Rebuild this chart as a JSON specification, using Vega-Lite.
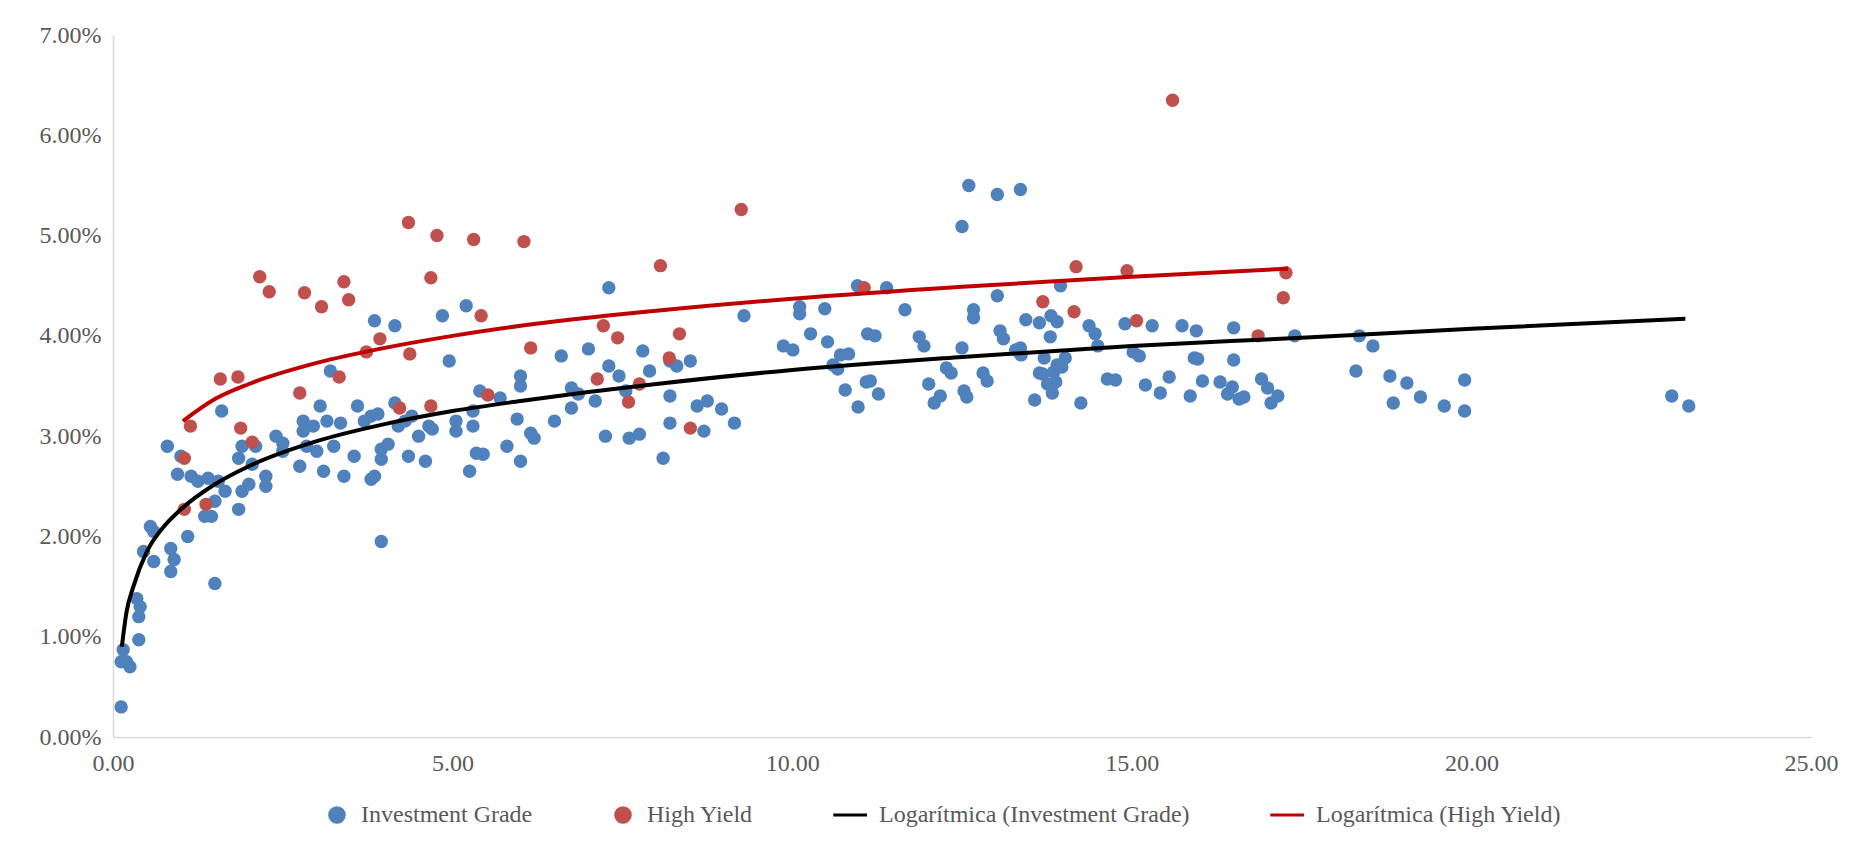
{
  "$schema": "https://vega.github.io/schema/vega-lite/v6.json",
  "width": 1698,
  "height": 702,
  "autosize": {"type": "none"},
  "padding": {"left": 113, "top": 35, "right": 56, "bottom": 114},
  "background": "white",
  "config": {
    "font": "Liberation Serif",
    "view": {"stroke": null},
    "axis": {"labelFont": "Liberation Serif", "labelFontSize": 24, "labelColor": "#595959", "grid": false, "domainColor": "#d9d9d9", "domainWidth": 1.5, "ticks": false, "title": null, "labelFlush": false}
  },
  "datasets": {
    "ig": [
      [0.12,0.3],[0.12,0.75],[0.15,0.87],[0.2,0.75],[0.25,0.7],[0.35,1.38],[0.38,1.2],[0.38,0.97],[0.4,1.3],[0.45,1.85],[0.55,2.1],[0.6,2.05],[0.6,1.75],[0.8,2.9],[0.85,1.88],[0.85,1.65],[0.9,1.77],[0.95,2.62],[1.0,2.8],[1.1,2.0],[1.15,2.6],[1.25,2.55],[1.35,2.2],[1.4,2.58],[1.45,2.2],[1.5,2.35],[1.5,1.53],[1.55,2.55],[1.6,3.25],[1.65,2.45],[1.85,2.27],[1.85,2.78],[1.9,2.9],[1.9,2.45],[2.0,2.52],[2.05,2.72],[2.1,2.9],[2.25,2.5],[2.25,2.6],[2.4,3.0],[2.5,2.93],[2.5,2.85],[2.75,2.7],[2.8,3.15],[2.8,3.05],[2.85,2.9],[2.95,3.1],[3.0,2.85],[3.05,3.3],[3.1,2.65],[3.15,3.15],[3.2,3.65],[3.25,2.9],[3.35,3.13],[3.4,2.6],[3.55,2.8],[3.6,3.3],[3.7,3.15],[3.8,3.2],[3.8,2.57],[3.85,2.6],[3.85,4.15],[3.9,3.22],[3.95,2.77],[3.95,2.87],[3.95,1.95],[4.05,2.92],[4.15,3.33],[4.15,4.1],[4.2,3.1],[4.3,3.15],[4.35,2.8],[4.4,3.2],[4.5,3.0],[4.6,2.75],[4.65,3.1],[4.7,3.07],[4.85,4.2],[4.95,3.75],[5.05,3.05],[5.05,3.15],[5.2,4.3],[5.25,2.65],[5.3,3.1],[5.3,3.25],[5.35,2.83],[5.4,3.45],[5.45,2.82],[5.7,3.38],[5.8,2.9],[5.95,3.17],[6.0,3.6],[6.0,3.5],[6.0,2.75],[6.15,3.03],[6.2,2.98],[6.5,3.15],[6.6,3.8],[6.75,3.28],[6.75,3.48],[6.85,3.42],[7.0,3.87],[7.1,3.35],[7.25,3.0],[7.3,4.48],[7.3,3.7],[7.45,3.6],[7.55,3.45],[7.6,2.98],[7.75,3.02],[7.8,3.85],[7.9,3.65],[8.1,2.78],[8.2,3.13],[8.2,3.4],[8.2,3.75],[8.3,3.7],[8.5,3.75],[8.6,3.3],[8.7,3.05],[8.75,3.35],[8.96,3.27],[9.15,3.13],[9.29,4.2],[9.87,3.9],[10.01,3.86],[10.11,4.29],[10.11,4.22],[10.27,4.02],[10.48,4.27],[10.52,3.94],[10.6,3.71],[10.67,3.67],[10.71,3.81],[10.78,3.46],[10.83,3.82],[10.97,3.29],[11.09,3.54],[11.11,4.02],[11.15,3.55],[11.22,4.0],[10.96,4.5],[11.27,3.42],[11.39,4.48],[11.66,4.26],[11.87,3.99],[11.94,3.9],[12.01,3.52],[12.09,3.33],[12.18,3.4],[12.27,3.68],[12.34,3.63],[12.5,5.09],[12.5,3.88],[12.53,3.45],[12.57,3.39],[12.6,5.5],[12.67,4.18],[12.67,4.26],[12.81,3.63],[12.87,3.55],[13.02,4.4],[13.36,3.88],[13.06,4.05],[13.11,3.97],[13.02,5.41],[13.36,5.46],[13.29,3.86],[13.37,3.81],[13.44,4.16],[13.57,3.36],[13.64,4.13],[13.64,3.63],[13.69,3.62],[13.71,3.78],[13.76,3.52],[13.8,3.99],[13.81,4.2],[13.83,3.43],[13.85,3.64],[13.88,3.54],[13.9,3.71],[13.9,4.14],[13.95,4.5],[13.97,3.69],[14.02,3.78],[14.25,3.33],[14.37,4.1],[14.46,4.02],[14.5,3.9],[14.64,3.57],[14.76,3.56],[14.9,4.12],[15.02,3.84],[15.11,3.8],[15.2,3.51],[15.3,4.1],[15.42,3.43],[15.55,3.59],[15.74,4.1],[15.86,3.4],[15.92,3.78],[15.95,4.05],[15.97,3.77],[16.04,3.55],[16.3,3.54],[16.41,3.42],[16.48,3.49],[16.5,4.08],[16.5,3.76],[16.58,3.37],[16.65,3.39],[16.91,3.57],[17.0,3.48],[17.05,3.33],[17.15,3.4],[17.4,4.0],[18.3,3.65],[18.35,4.0],[18.55,3.9],[18.8,3.6],[18.85,3.33],[19.05,3.53],[19.25,3.39],[19.6,3.3],[19.9,3.25],[19.9,3.56],[22.95,3.4],[23.2,3.3]
    ],
    "hy": [
      [1.05,2.78],[1.14,3.1],[1.05,2.27],[1.37,2.32],[1.58,3.57],[1.84,3.59],[1.88,3.08],[2.05,2.94],[2.16,4.59],[2.3,4.44],[2.75,3.43],[2.82,4.43],[3.07,4.29],[3.33,3.59],[3.4,4.54],[3.47,4.36],[3.73,3.84],[3.93,3.97],[4.22,3.28],[4.35,5.13],[4.37,3.82],[4.68,4.58],[4.68,3.3],[4.77,5.0],[5.31,4.96],[5.42,4.2],[5.52,3.41],[6.05,4.94],[6.15,3.88],[7.13,3.57],[7.22,4.1],[7.43,3.98],[7.59,3.34],[7.75,3.52],[8.06,4.7],[8.19,3.78],[8.34,4.02],[8.5,3.08],[9.25,5.26],[11.06,4.48],[13.69,4.34],[14.18,4.69],[14.15,4.24],[14.93,4.65],[15.07,4.15],[15.6,6.35],[16.86,4.0],[17.27,4.63],[17.23,4.38]
    ],
    "lig": [
      [0.13,0.9],[0.2,1.25],[0.3,1.5],[0.5,1.85],[0.75,2.1],[1,2.27],[1.5,2.52],[2,2.7],[3,2.95],[4,3.12],[5,3.25],[6,3.35],[7,3.44],[8,3.52],[10,3.66],[12.5,3.79],[15,3.9],[17.5,3.98],[20,4.07],[23.15,4.17]
    ],
    "lhy": [
      [1.03,3.15],[1.5,3.37],[2,3.52],[3,3.73],[4,3.88],[5,4.0],[6,4.1],[8,4.25],[10,4.37],[12.5,4.49],[15,4.59],[17.3,4.67]
    ]
  },
  "encoding": {
    "x": {"field": "x", "type": "quantitative", "scale": {"domain": [0, 25], "nice": false}, "axis": {"values": [0, 5, 10, 15, 20, 25], "format": ".2f", "labelPadding": 14}},
    "y": {"field": "y", "type": "quantitative", "scale": {"domain": [0, 0.07], "nice": false}, "axis": {"values": [0, 0.01, 0.02, 0.03, 0.04, 0.05, 0.06, 0.07], "format": ".2%", "labelPadding": 12}},
    "color": {
      "field": "series", "type": "nominal",
      "scale": {"domain": ["Investment Grade", "High Yield", "Logarítmica (Investment Grade)", "Logarítmica (High Yield)"], "range": ["#4f81bd", "#c0504d", "#000000", "#c00000"]},
      "legend": {"orient": "none", "legendX": 212, "legendY": 768, "direction": "horizontal", "title": null, "labelFontSize": 24, "labelColor": "#595959", "labelFont": "Liberation Serif", "labelLimit": 600, "symbolSize": 260, "columnPadding": 78, "labelOffset": 12}
    }
  },
  "layer": [
    {
      "data": {"name": "ig"},
      "transform": [{"calculate": "datum[0]", "as": "x"}, {"calculate": "datum[1] / 100", "as": "y"}, {"calculate": "'Investment Grade'", "as": "series"}],
      "mark": {"type": "point", "filled": true, "opacity": 1, "size": 180},
      "encoding": {
        "shape": {"field": "series", "type": "nominal", "scale": {"domain": ["Investment Grade", "High Yield", "Logarítmica (Investment Grade)", "Logarítmica (High Yield)"], "range": ["circle", "circle", "M-2.6,-0.1H1.4V0.1H-2.6Z", "M-2.6,-0.1H1.4V0.1H-2.6Z"]}}
      }
    },
    {
      "data": {"name": "hy"},
      "transform": [{"calculate": "datum[0]", "as": "x"}, {"calculate": "datum[1] / 100", "as": "y"}, {"calculate": "'High Yield'", "as": "series"}],
      "mark": {"type": "point", "filled": true, "opacity": 1, "size": 180},
      "encoding": {
        "shape": {"field": "series", "type": "nominal"}
      }
    },
    {
      "data": {"name": "lig"},
      "transform": [{"calculate": "datum[0]", "as": "x"}, {"calculate": "datum[1] / 100", "as": "y"}, {"calculate": "'Logarítmica (Investment Grade)'", "as": "series"}],
      "mark": {"type": "line", "strokeWidth": 4, "interpolate": "monotone"},
      "encoding": {}
    },
    {
      "data": {"name": "lhy"},
      "transform": [{"calculate": "datum[0]", "as": "x"}, {"calculate": "datum[1] / 100", "as": "y"}, {"calculate": "'Logarítmica (High Yield)'", "as": "series"}],
      "mark": {"type": "line", "strokeWidth": 4, "interpolate": "monotone"},
      "encoding": {}
    }
  ]
}
